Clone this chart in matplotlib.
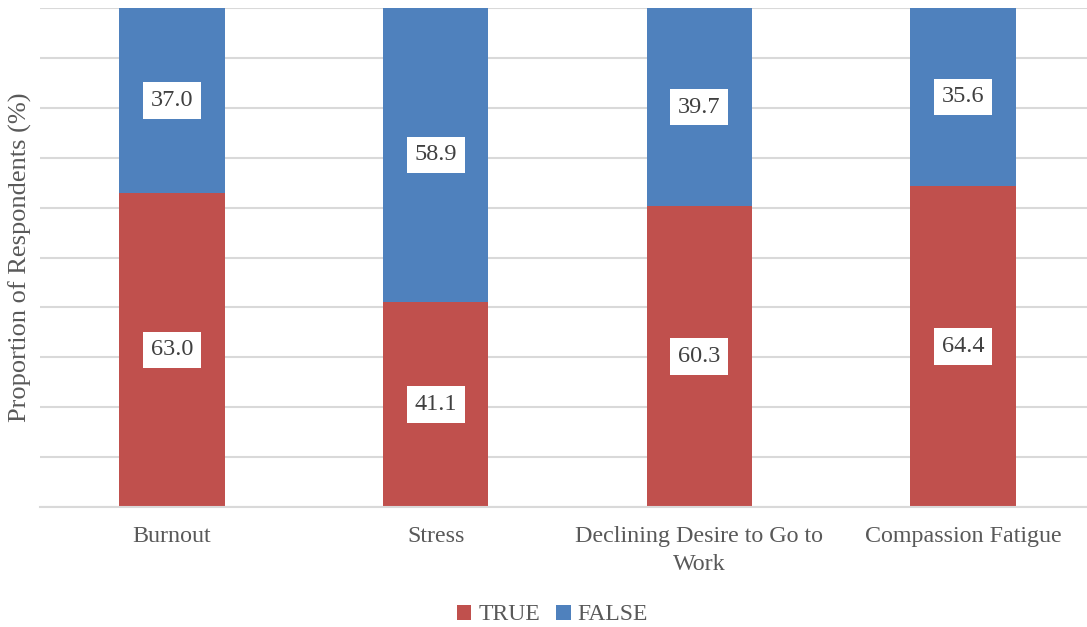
import matplotlib.pyplot as plt
import numpy as np

categories = ['Burnout', 'Stress', 'Declining Desire to Go to\nWork', 'Compassion Fatigue']
true_pct = [63.0, 41.1, 60.3, 64.4]
false_pct = [37.0, 58.9, 39.7, 35.6]

plt.rcParams['font.family'] = ['Liberation Serif', 'DejaVu Serif']
text_color = '#595959'
red = '#c0504d'
blue = '#4f81bd'

fig = plt.figure(figsize=(10.87, 6.27), dpi=100)
ax = fig.add_axes([40 / 1087, 1 - 507 / 627, 1055 / 1087, 499 / 627])

x = np.arange(len(categories))
ax.bar(x, true_pct, width=0.4, color=red, label='TRUE', zorder=2)
ax.bar(x, false_pct, width=0.4, bottom=true_pct, color=blue, label='FALSE', zorder=2)

box = dict(boxstyle='square,pad=0.32', fc='white', ec='none')
for i in range(len(categories)):
    ax.text(x[i], true_pct[i] / 2, f'{true_pct[i]:.1f}', ha='center', va='center',
            fontsize=17.5, color='#404040', bbox=box, zorder=3)
    ax.text(x[i], true_pct[i] + false_pct[i] / 2, f'{false_pct[i]:.1f}', ha='center', va='center',
            fontsize=17.5, color='#404040', bbox=box, zorder=3)

ax.set_xlim(-0.5, 3.5)
ax.set_ylim(0, 100)
ax.set_yticks(np.arange(0, 101, 10))
ax.set_yticklabels([])
ax.tick_params(axis='y', length=0)
ax.tick_params(axis='x', length=0, pad=14, labelsize=17.3, labelcolor=text_color)
ax.set_xticks(x)
ax.set_xticklabels(categories, linespacing=1.4)
ax.grid(axis='y', color='#d9d9d9', linewidth=1.5, zorder=0)
for side in ['top', 'right', 'left']:
    ax.spines[side].set_visible(False)
ax.spines['bottom'].set_color('#d9d9d9')
ax.spines['bottom'].set_linewidth(1.5)

ax.set_ylabel('Proportion of Respondents (%)', fontsize=19, color=text_color)
ax.yaxis.set_label_coords(-8 / 1055, 0.5)

ax.legend(loc='center', bbox_to_anchor=(0.5 - 15 / 1055, -108 / 499), ncol=2, frameon=False,
          fontsize=17, handlelength=0.6, handleheight=0.6, handletextpad=0.3, columnspacing=0.7,
          labelcolor=text_color)

fig.savefig('out.png', dpi=100)
